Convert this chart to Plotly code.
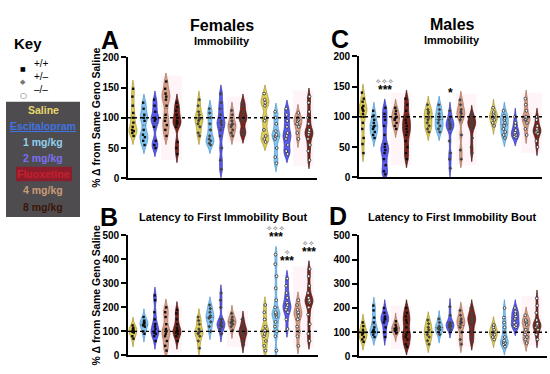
import plotly.graph_objects as go

W, H = 550, 374

# ---------------- data ----------------
DOSES = ["Saline", "Escitalopram 1 mg/kg", "Escitalopram 2 mg/kg", "Fluoxetine 4 mg/kg", "Fluoxetine 8 mg/kg"]
GENOS = ["+/+", "+/–", "–/–"]

# Panel A: Females, Immobility (% change from same-genotype saline)
A_WT = [[148, 135, 120, 108, 100, 92, 85, 80, 78, 75, 70],
        [125, 115, 105, 100, 95, 80, 72, 68, 62, 55],
        [130, 120, 110, 100, 98, 95, 85, 62, 55, 50],
        [160, 148, 140, 135, 130, 120, 105, 95, 88, 80, 70],
        [125, 118, 112, 105, 100, 95, 92, 90, 85, 60, 50, 40]]
A_HET = [[130, 120, 110, 105, 100, 98, 95, 90, 85, 75, 70],
         [115, 108, 100, 90, 80, 70, 65, 62, 58, 55],
         [140, 125, 115, 105, 95, 92, 88, 80, 70, 50, 30, 15],
         [112, 105, 95, 90, 88, 85, 80, 75, 70],
         [125, 120, 110, 105, 100, 98, 95, 80, 75, 72]]
A_KO = [[140, 130, 125, 120, 100, 95, 80, 70, 65, 60],
        [110, 100, 90, 78, 72, 70, 65, 50, 35, 25],
        [115, 105, 95, 85, 75, 70, 65, 55, 45, 40],
        [108, 100, 97, 95, 90, 85, 75, 65],
        [135, 125, 110, 100, 90, 80, 76, 75, 72, 65, 55, 45, 30]]

# Panel B: Females, Latency to first immobility bout
B_WT = [[125, 115, 110, 105, 100, 100, 95, 80, 70],
        [160, 145, 140, 135, 130, 125, 120, 100, 90],
        [250, 230, 180, 150, 130, 120, 110, 100, 95, 90, 80, 60],
        [200, 180, 160, 130, 110, 100, 90, 80, 60, 40, 20],
        [190, 175, 150, 130, 115, 105, 100, 95, 90, 80, 60]]
B_HET = [[160, 145, 130, 110, 100, 95, 90, 80, 60, 30],
         [210, 195, 180, 165, 160, 155, 140, 120, 100],
         [260, 230, 200, 150, 140, 135, 130, 125, 120, 110, 90],
         [175, 160, 150, 145, 140, 135, 130, 120, 105],
         [150, 130, 115, 105, 100, 95, 90, 80, 60, 45]]
B_KO = [[210, 180, 150, 120, 105, 100, 90, 80, 60, 40, 20],
        [420, 380, 330, 280, 230, 200, 180, 175, 170, 160, 140, 120, 100, 80, 20],
        [320, 290, 260, 240, 220, 210, 200, 190, 180, 150, 110],
        [230, 210, 190, 180, 175, 165, 150, 120, 100, 80, 40],
        [360, 330, 290, 260, 240, 230, 225, 220, 200, 170, 130, 90, 60]]

# Panel C: Males, Immobility
C_WT = [[140, 130, 125, 118, 115, 112, 110, 105, 100, 90, 80, 65, 55, 40],
        [110, 102, 95, 90, 85, 83, 80, 75, 70, 65],
        [115, 105, 95, 85, 70, 55, 50, 45, 40, 30, 20, 10, 5],
        [115, 110, 105, 100, 98, 95, 90, 85, 80],
        [130, 120, 110, 100, 95, 90, 85, 80, 75, 70, 60, 50, 40, 30]]
C_HET = [[120, 112, 108, 105, 100, 95, 90, 85, 80, 75],
         [120, 112, 105, 100, 95, 90, 85, 80, 75],
         [110, 100, 95, 90, 87, 85, 82, 80, 60, 40, 30, 15],
         [128, 120, 112, 108, 105, 100, 95, 70, 45, 30],
         [105, 100, 95, 92, 90, 88, 85, 80, 65, 50, 40]]
C_KO = [[115, 108, 105, 102, 100, 98, 95, 90, 85],
        [110, 102, 98, 95, 90, 85, 80, 75, 70, 65],
        [100, 90, 85, 78, 74, 72, 70, 68, 66],
        [130, 120, 110, 100, 98, 96, 95, 90, 80, 70],
        [100, 95, 85, 80, 78, 76, 74, 72, 60, 50]]

# Panel D: Males, Latency to first immobility bout
D_WT = [[140, 125, 110, 100, 95, 90, 80, 70, 60],
        [210, 190, 160, 140, 120, 110, 105, 100, 90, 80],
        [200, 180, 165, 160, 155, 150, 140, 120, 100, 80],
        [145, 130, 120, 115, 112, 110, 105, 95],
        [200, 180, 165, 150, 140, 120, 100, 90, 80, 70, 50, 40]]
D_HET = [[150, 135, 120, 110, 100, 90, 80, 65, 50],
         [155, 140, 125, 120, 118, 115, 110, 100, 90],
         [205, 170, 140, 135, 130, 128, 125, 120, 110],
         [190, 170, 155, 145, 140, 135, 120, 100, 70, 50],
         [200, 180, 165, 155, 150, 140, 120, 100, 80, 60]]
D_KO = [[130, 120, 110, 100, 95, 90, 80, 70],
        [200, 160, 140, 120, 100, 80, 65, 60, 55, 50, 40],
        [200, 185, 175, 165, 155, 140, 130, 125, 120],
        [170, 150, 145, 140, 130, 110, 90, 80, 70, 55],
        [240, 210, 180, 150, 135, 130, 128, 125, 120, 110, 90, 70]]

Y_TICKS_IMM = [0, 50, 100, 150, 200]
Y_TICKS_LAT = [0, 100, 200, 300, 400, 500]

# significance labels: (panel, genotype index, dose index, symbol line, star line)
SIG = [("C", 0, 2, "✧✧✧", "***"),
       ("C", 1, 2, "", "*"),
       ("B", 2, 1, "✧✧✧", "***"),
       ("B", 2, 2, "✧", "***"),
       ("B", 2, 4, "✧✧", "***")]

# ---------------- styling ----------------
FILL = ["#ddcb4e", "#7cc3ee", "#5252ec", "#d49a82", "#761a10"]
EDGE = ["#a08c22", "#3f8cd0", "#2828b0", "#a0664f", "#3a0603"]
PT = [dict(color="black", symbol="square", size=2.4),
      dict(color="#3a3a3a", symbol="diamond", size=2.8),
      dict(color="#f4f4f4", symbol="circle", size=2.8, line=dict(color="#111", width=0.7))]
FONT = "Liberation Sans, Arial, sans-serif"


def px(x):
    return x / W


def py(y):
    return 1 - y / H


PANELS = {
    "A": dict(data=[A_WT, A_HET, A_KO], x="x", y="y", xd=(128, 317), yd=(178, 53),
              xr=(-0.45, 16.73), yr=(0, 200), ticks=Y_TICKS_IMM, bw=7),
    "B": dict(data=[B_WT, B_HET, B_KO], x="x2", y="y2", xd=(128, 318), yd=(361, 237),
              xr=(-0.45, 16.82), yr=(0, 500), ticks=Y_TICKS_LAT, bw=17),
    "C": dict(data=[C_WT, C_HET, C_KO], x="x3", y="y3", xd=(359, 542), yd=(177, 52),
              xr=(-0.37, 16.46), yr=(0, 200), ticks=Y_TICKS_IMM, bw=7),
    "D": dict(data=[D_WT, D_HET, D_KO], x="x4", y="y4", xd=(359, 547), yd=(362, 237),
              xr=(-0.37, 16.92), yr=(0, 500), ticks=Y_TICKS_LAT, bw=17),
}

fig = go.Figure()
shapes = []
annotations = []

for name, p in PANELS.items():
    for g, geno_data in enumerate(p["data"]):
        # faint pink glow behind the fluoxetine violins
        flx = [v for dd in (3, 4) for v in geno_data[dd]]
        shapes.append(dict(type="rect", xref=p["x"], yref=p["y"], layer="below",
                           x0=g * 6 + 2.55, x1=g * 6 + 4.45, y0=max(min(flx) - 10, 0), y1=max(flx) + 10,
                           fillcolor="rgba(255,175,200,0.12)", line=dict(width=0)))
        for d, vals in enumerate(geno_data):
            pos = g * 6 + d
            fig.add_trace(go.Violin(
                x=[pos] * len(vals), y=vals, xaxis=p["x"], yaxis=p["y"],
                name=f"{GENOS[g]} {DOSES[d]}", showlegend=False,
                width=0.72, scalemode="width", spanmode="soft", bandwidth=p["bw"],
                fillcolor=FILL[d], line=dict(color=EDGE[d], width=0.7),
                opacity=0.95,
                points="all", pointpos=0, jitter=0.3,
                marker=PT[g],
                meanline=dict(visible=True, color="#333", width=0.6),
                box=dict(visible=False), hoveron="violins+points",
            ))
    # dotted reference line at 100 %
    shapes.append(dict(type="line", xref=p["x"] + " domain", yref=p["y"], x0=0, x1=1, y0=100, y1=100,
                       line=dict(color="black", width=1.4, dash="dot"), layer="above"))

layout_axes = {}
for name, p in PANELS.items():
    xk = "xaxis" + p["x"][1:]
    yk = "yaxis" + p["y"][1:]
    layout_axes[xk] = dict(domain=[px(p["xd"][0]), px(p["xd"][1])], range=list(p["xr"]),
                           anchor=p["y"], showticklabels=False, ticks="", showgrid=False,
                           zeroline=False, showline=True, linecolor="black", linewidth=1.6)
    layout_axes[yk] = dict(domain=[py(p["yd"][0]), py(p["yd"][1])], range=list(p["yr"]),
                           anchor=p["x"], tickvals=p["ticks"], ticks="outside", ticklen=5,
                           tickwidth=1.5, tickcolor="black", showgrid=False, zeroline=False,
                           showline=True, linecolor="black", linewidth=1.6,
                           tickfont=dict(family=FONT, size=10, color="black", weight="bold"))


def y_to_paper(p, v):
    d0, d1 = py(p["yd"][0]), py(p["yd"][1])
    r0, r1 = p["yr"]
    return d0 + (v - r0) / (r1 - r0) * (d1 - d0)


# significance annotations (placed above the top of each violin)
for pn, g, d, sym, star in SIG:
    p = PANELS[pn]
    span = p["yr"][1] - p["yr"][0]
    star_v = max(p["data"][g][d]) + 0.145 * span
    annotations.append(dict(x=g * 6 + d, y=y_to_paper(p, star_v), xref=p["x"], yref="paper",
                            text=f"<b>{star}</b>", showarrow=False,
                            font=dict(family=FONT, size=12, color="black"), yanchor="middle"))
    if sym:
        annotations.append(dict(x=g * 6 + d, y=y_to_paper(p, star_v + 0.07 * span), xref=p["x"],
                                yref="paper", text=sym, showarrow=False,
                                font=dict(family="DejaVu Sans", size=7.5, color="#444"),
                                yanchor="middle"))


def txt(x, y, s, size, color="black", bold=True, **kw):
    d = dict(x=px(x), y=py(y), xref="paper", yref="paper", text=f"<b>{s}</b>" if bold else s,
             showarrow=False, font=dict(family=FONT, size=size, color=color),
             xanchor="center", yanchor="middle")
    d.update(kw)
    annotations.append(d)


# titles
txt(222, 20, "Females", 16)
txt(222, 36, "Immobility", 11)
txt(452, 19, "Males", 16)
txt(452, 35, "Immobility", 11)
txt(223, 218, "Latency to First Immobility Bout", 11)
txt(452, 218, "Latency to First Immobility Bout", 11)
txt(110, 35, "A", 25)
txt(340, 34, "C", 25)
txt(109, 218, "B", 25)
txt(338, 217, "D", 25)

# y-axis titles
ytitle = "% Δ from Same Geno Saline"
txt(96, (178 + 53) / 2, ytitle, 10.5, textangle=-90)
txt(96, (361 + 237) / 2, ytitle, 10.5, textangle=-90)

# key
txt(28, 39, "Key", 15)
KEY_MARK = [("■", "black", 6), ("◆", "#777", 7), ("○", "#555", 8)]
for i, (m, c, s) in enumerate(KEY_MARK):
    yk = 59 + i * 13.5
    annotations.append(dict(x=px(18), y=py(yk), xref="paper", yref="paper", text=m, showarrow=False,
                            font=dict(family="DejaVu Sans", size=s, color=c)))
    txt(41, yk, GENOS[i], 10, bold=False)

shapes.append(dict(type="rect", xref="paper", yref="paper", x0=px(6), x1=px(80), y0=py(218), y1=py(99),
                   fillcolor="#4f4c50", line=dict(width=0), layer="below"))
shapes.append(dict(type="rect", xref="paper", yref="paper", x0=px(16), x1=px(72), y0=py(181), y1=py(166),
                   fillcolor="#8c1d2c", line=dict(width=0), layer="below"))
KEY_LABELS = [("Saline", "#e7d86a"), ("<u>Escitalopram</u>", "#3f73e0"), ("1 mg/kg", "#8fd0ef"),
              ("2 mg/kg", "#7b6ff0"), ("Fluoxetine", "#c8202c"), ("4 mg/kg", "#c99a76"),
              ("8 mg/kg", "#3a1608")]
for i, (lab, col) in enumerate(KEY_LABELS):
    txt(43, 107 + i * 16.7, lab, 10.5, color=col)

fig.update_layout(width=W, height=H, margin=dict(l=0, r=0, t=0, b=0),
                  plot_bgcolor="white", paper_bgcolor="white", showlegend=False,
                  violinmode="overlay", violingap=0, shapes=shapes, annotations=annotations,
                  **layout_axes)

fig.write_html("out.html", config={"displayModeBar": False},
               post_script="document.body.style.margin='0';")
